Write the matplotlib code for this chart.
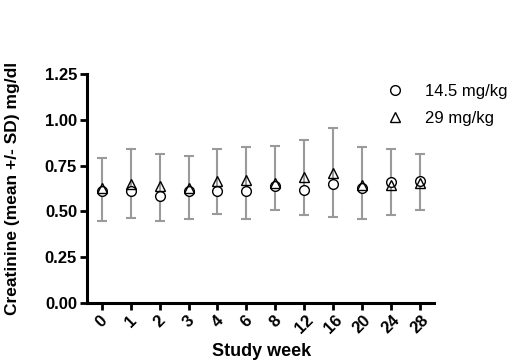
import matplotlib
matplotlib.use('Agg')
import matplotlib.pyplot as plt
import numpy as np

plt.rcParams['font.family'] = ['Liberation Sans', 'DejaVu Sans']

weeks = ['0', '1', '2', '3', '4', '6', '8', '12', '16', '20', '24', '28']
mean_14_5 = [0.61, 0.61, 0.585, 0.61, 0.61, 0.61, 0.64, 0.615, 0.65, 0.63, 0.66, 0.665]
mean_29 = [0.625, 0.65, 0.64, 0.63, 0.665, 0.67, 0.655, 0.69, 0.71, 0.645, 0.645, 0.655]
sd_low = [0.445, 0.465, 0.45, 0.457, 0.486, 0.46, 0.509, 0.48, 0.471, 0.457, 0.48, 0.506]
sd_high = [0.793, 0.84, 0.815, 0.802, 0.841, 0.853, 0.857, 0.89, 0.955, 0.852, 0.839, 0.811]

x = np.arange(len(weeks))
m1 = np.array(mean_14_5)
yerr = [m1 - np.array(sd_low), np.array(sd_high) - m1]

fig = plt.figure(figsize=(5.2, 3.64), dpi=100)
ax = fig.add_axes([0.167, 0.1676, 0.668, 0.6294])

# SD bars (grey), one per week
ax.errorbar(x, m1, yerr=yerr, fmt='none', ecolor='#9a9a9a', elinewidth=1.5,
            capsize=3.7, capthick=1.5, zorder=1)

ax.plot(x, mean_14_5, 'o', ms=7, mfc='white', mec='black', mew=1.0,
        label='14.5 mg/kg', zorder=3)
ax.plot(x, mean_29, '^', ms=7, mfc='none', mec='black', mew=1.0,
        label='29 mg/kg', zorder=4)

ax.set_xlim(-0.52, 11.5)
ax.set_ylim(0, 1.25)
ax.set_yticks([0, 0.25, 0.5, 0.75, 1.0, 1.25])
ax.set_yticklabels(['0.00', '0.25', '0.50', '0.75', '1.00', '1.25'],
                   fontsize=12, fontweight='bold')
ax.set_xticks(x)
ax.set_xticklabels(weeks, fontsize=12, fontweight='bold', rotation=45, ha='center')

for s in ['top', 'right']:
    ax.spines[s].set_visible(False)
for s in ['left', 'bottom']:
    ax.spines[s].set_linewidth(2.2)
ax.tick_params(axis='both', direction='out', length=5, width=2, pad=2)

ax.set_ylabel('Creatinine (mean +/- SD) mg/dl', fontsize=12.5, fontweight='bold')
ax.set_xlabel('Study week', fontsize=13, fontweight='bold')
ax.yaxis.set_label_coords(-0.193, 0.5)
ax.xaxis.set_label_coords(0.504, -0.175)

fig.legend(loc='center left', bbox_to_anchor=(0.744, 0.712), frameon=False,
           fontsize=12, borderpad=0, borderaxespad=0, handlelength=1.0,
           handletextpad=1.3, labelspacing=0.7)

fig.savefig('out.png', dpi=100)
